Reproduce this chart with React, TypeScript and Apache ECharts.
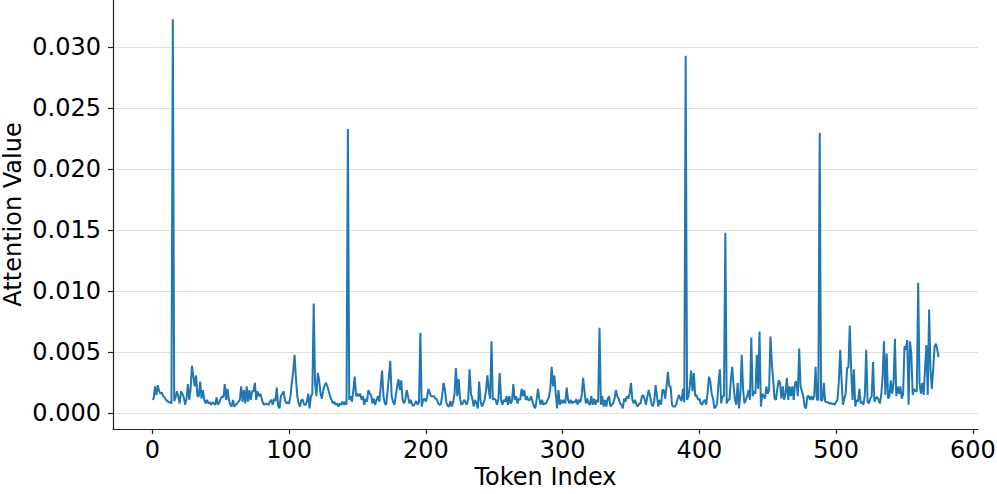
import React, { useEffect, useRef } from "react";
import * as echarts from "echarts";

// Attention value per token index (index = position in array, 0..575)
const attention: number[] = [
  0.0011, 0.0012, 0.0022, 0.0015, 0.0023, 0.0018, 0.0016, 0.0017, 0.0014, 0.0013, 0.0011, 0.0010, 0.0009, 0.0009, 0.0008, 0.0323, 0.0010, 0.0013, 0.0018, 0.0014,
  0.0008, 0.0018, 0.0016, 0.0013, 0.0007, 0.0012, 0.0024, 0.0011, 0.0020, 0.0039, 0.0030, 0.0022, 0.0031, 0.0014, 0.0014, 0.0026, 0.0012, 0.0019, 0.0011, 0.0008,
  0.0011, 0.0008, 0.0009, 0.0007, 0.0009, 0.0008, 0.0007, 0.0013, 0.0007, 0.0009, 0.0012, 0.0014, 0.0013, 0.0024, 0.0011, 0.0020, 0.0011, 0.0007, 0.00055, 0.0011,
  0.00055, 0.0007, 0.0008, 0.00095, 0.0011, 0.0022, 0.00095, 0.0019, 0.0008, 0.0022, 0.00095, 0.0019, 0.0011, 0.0018, 0.0018, 0.0025, 0.0011, 0.0018, 0.0014, 0.0016,
  0.0012, 0.0008, 0.0007, 0.0008, 0.00075, 0.0007, 0.00095, 0.0011, 0.0007, 0.0012, 0.0010, 0.0021, 0.0006, 0.0004, 0.0014, 0.0016, 0.0018, 0.0011, 0.0008, 0.0009,
  0.0008, 0.0014, 0.0025, 0.0034, 0.0048, 0.0029, 0.0014, 0.0008, 0.00055, 0.0011, 0.0011, 0.0007, 0.0007, 0.00095, 0.0016, 0.0004, 0.0014, 0.0016, 0.0090, 0.0025,
  0.0014, 0.0033, 0.0027, 0.0016, 0.0012, 0.0019, 0.0023, 0.0025, 0.0022, 0.0018, 0.0014, 0.0011, 0.0008, 0.00095, 0.0007, 0.0008, 0.00055, 0.0008, 0.0007, 0.00095,
  0.0007, 0.00095, 0.0007, 0.0233, 0.0011, 0.0014, 0.00095, 0.0019, 0.0030, 0.0014, 0.0016, 0.0014, 0.0016, 0.0011, 0.0014, 0.0007, 0.0012, 0.00095, 0.0019, 0.0016,
  0.0015, 0.0008, 0.0012, 0.0007, 0.0011, 0.0014, 0.00095, 0.0022, 0.0035, 0.0014, 0.0008, 0.0007, 0.0018, 0.0030, 0.0043, 0.0014, 0.00095, 0.0007, 0.0014, 0.0022,
  0.0028, 0.0019, 0.0027, 0.0011, 0.0008, 0.0011, 0.0019, 0.0014, 0.0008, 0.0011, 0.0007, 0.0006, 0.0008, 0.0010, 0.0007, 0.0009, 0.0066, 0.00055, 0.0011, 0.0012,
  0.00095, 0.0014, 0.0020, 0.0016, 0.0014, 0.0014, 0.0014, 0.0012, 0.00115, 0.0008, 0.0007, 0.00075, 0.0015, 0.0025, 0.0019, 0.0009, 0.0006, 0.00055, 0.0010, 0.00055,
  0.0009, 0.0016, 0.0037, 0.0014, 0.0028, 0.0012, 0.0007, 0.0008, 0.0011, 0.0009, 0.0007, 0.0012, 0.0036, 0.0016, 0.0012, 0.00055, 0.0011, 0.0008, 0.0004, 0.0026,
  0.0010, 0.00055, 0.0008, 0.0011, 0.0019, 0.0031, 0.0019, 0.0012, 0.0059, 0.0011, 0.0012, 0.0011, 0.0007, 0.00115, 0.0033, 0.0011, 0.0007, 0.0011, 0.00095, 0.0014,
  0.0007, 0.0014, 0.0008, 0.0010, 0.0024, 0.0011, 0.0014, 0.0008, 0.0012, 0.0011, 0.0020, 0.0014, 0.0019, 0.0011, 0.0014, 0.00105, 0.0011, 0.0014, 0.00095, 0.0006,
  0.0004, 0.0011, 0.0020, 0.0012, 0.0007, 0.0011, 0.0007, 0.0008, 0.0008, 0.0011, 0.0013, 0.0020, 0.0038, 0.0022, 0.0031, 0.0016, 0.0004, 0.0019, 0.0007, 0.0011,
  0.0008, 0.0011, 0.0008, 0.0021, 0.0011, 0.0008, 0.0011, 0.0008, 0.00095, 0.0009, 0.00115, 0.0007, 0.0011, 0.0009, 0.0015, 0.0029, 0.0018, 0.0008, 0.0012, 0.0008,
  0.0007, 0.0014, 0.0007, 0.0012, 0.0007, 0.0011, 0.0009, 0.0070, 0.0007, 0.0014, 0.00055, 0.0011, 0.00055, 0.0012, 0.0014, 0.00055, 0.0007, 0.0008, 0.0012, 0.0019,
  0.0014, 0.0012, 0.0008, 0.0007, 0.0004, 0.0012, 0.00095, 0.0014, 0.0012, 0.0016, 0.0025, 0.0011, 0.0008, 0.0011, 0.0007, 0.00055, 0.0008, 0.0008, 0.0014, 0.0015,
  0.0011, 0.0007, 0.0014, 0.0019, 0.0014, 0.0008, 0.00055, 0.0010, 0.0023, 0.0014, 0.00055, 0.0011, 0.0007, 0.0019, 0.0019, 0.0012, 0.0022, 0.0034, 0.0022, 0.0022,
  0.0007, 0.00055, 0.00055, 0.0007, 0.0011, 0.0015, 0.0012, 0.0010, 0.0020, 0.0009, 0.0293, 0.0011, 0.0014, 0.0022, 0.0035, 0.0018, 0.0033, 0.0014, 0.0015, 0.0011,
  0.0012, 0.0008, 0.0007, 0.00095, 0.0011, 0.0007, 0.0016, 0.0030, 0.0026, 0.0016, 0.0012, 0.0004, 0.00055, 0.0008, 0.0025, 0.0036, 0.0008, 0.0014, 0.0014, 0.0148,
  0.0008, 0.0011, 0.0011, 0.0027, 0.0038, 0.0023, 0.0011, 0.0007, 0.0025, 0.0004, 0.0016, 0.0048, 0.0019, 0.0008, 0.0011, 0.0014, 0.0019, 0.0011, 0.0062, 0.0014,
  0.0018, 0.0016, 0.0048, 0.0020, 0.0067, 0.00055, 0.0016, 0.0014, 0.0012, 0.0022, 0.0016, 0.0019, 0.0063, 0.0041, 0.0027, 0.0012, 0.0011, 0.0020, 0.0027, 0.0025,
  0.0012, 0.0022, 0.0011, 0.0016, 0.0029, 0.0011, 0.0022, 0.0014, 0.0022, 0.0011, 0.0025, 0.0026, 0.0014, 0.0053, 0.0022, 0.0018, 0.0014, 0.00055, 0.0004, 0.0014,
  0.0014, 0.0011, 0.0014, 0.0011, 0.0014, 0.0038, 0.0011, 0.0011, 0.0230, 0.0010, 0.0011, 0.0025, 0.00095, 0.0009, 0.0009, 0.0008, 0.00085, 0.00075, 0.0008, 0.0007,
  0.00095, 0.0011, 0.0026, 0.0052, 0.0027, 0.0007, 0.0012, 0.0016, 0.0037, 0.0038, 0.0072, 0.0036, 0.0011, 0.0036, 0.00055, 0.0011, 0.00095, 0.0020, 0.0008, 0.00095,
  0.0007, 0.0015, 0.0052, 0.00095, 0.0008, 0.0012, 0.0014, 0.0042, 0.00095, 0.0012, 0.00135, 0.0011, 0.0008, 0.0015, 0.0030, 0.0059, 0.0015, 0.0049, 0.0012, 0.0014,
  0.0027, 0.0016, 0.0025, 0.0061, 0.0014, 0.0022, 0.0016, 0.0022, 0.0012, 0.0016, 0.0055, 0.0052, 0.0060, 0.0007, 0.0059, 0.0049, 0.0015, 0.0020, 0.0018, 0.0018,
  0.0107, 0.0025, 0.0016, 0.0025, 0.0015, 0.0036, 0.0056, 0.0015, 0.0085, 0.0036, 0.0020, 0.0036, 0.0055, 0.0057, 0.0052, 0.0046,
];

const xTicks: number[] = [0, 100, 200, 300, 400, 500, 600];
const yTicks: number[] = [0, 0.005, 0.01, 0.015, 0.02, 0.025, 0.03];

const FONT = "'DejaVu Sans', sans-serif";

export default function App() {
  const ref = useRef<HTMLDivElement>(null);

  useEffect(() => {
    if (!ref.current) return;
    const chart = echarts.init(ref.current, null, { renderer: "svg" });
    const seriesData = attention.map((v, i) => [i, v]);
    chart.setOption({
      animation: false,
      backgroundColor: "#ffffff",
      grid: {
        left: 113,
        top: 0,
        width: 865,
        height: 429,
        containLabel: false,
        outerBoundsMode: "none",
      },
      xAxis: {
        type: "value",
        min: -28.75,
        max: 603.75,
        name: "Token Index",
        nameLocation: "middle",
        nameGap: 36,
        nameMoveOverlap: false,
        nameTextStyle: { fontFamily: FONT, fontSize: 24, color: "#000" },
        axisLine: { show: true, onZero: false, lineStyle: { color: "#222", width: 1.2 } },
        axisTick: { show: true, length: 5, customValues: xTicks, lineStyle: { color: "#222", width: 1.2 } },
        axisLabel: {
          customValues: xTicks,
          fontFamily: FONT,
          fontSize: 24,
          color: "#000",
          margin: 9,
          hideOverlap: false,
          formatter: (v: number) => String(Math.round(v)),
        },
        splitLine: { show: false },
      },
      yAxis: {
        type: "value",
        min: -0.00129,
        max: 0.03388,
        name: "Attention Value",
        nameLocation: "middle",
        nameGap: 88,
        nameRotate: 90,
        nameMoveOverlap: false,
        nameTextStyle: { fontFamily: FONT, fontSize: 24, color: "#000", lineHeight: 24 },
        axisLine: { show: true, onZero: false, lineStyle: { color: "#222", width: 1.2 } },
        axisTick: { show: true, length: 5, customValues: yTicks, lineStyle: { color: "#222", width: 1.2 } },
        axisLabel: {
          customValues: yTicks,
          fontFamily: FONT,
          fontSize: 24,
          color: "#000",
          margin: 12,
          hideOverlap: false,
          formatter: (v: number) => v.toFixed(3),
        },
        splitLine: { show: true, lineStyle: { color: "#e0e0e0", width: 1 } },
      },
      series: [
        {
          type: "line",
          data: seriesData,
          showSymbol: false,
          symbol: "none",
          lineStyle: { color: "#1f77b4", width: 2 },
          itemStyle: { color: "#1f77b4" },
          silent: true,
        },
      ],
    });
    return () => chart.dispose();
  }, []);

  return (
    <div
      ref={ref}
      style={{ position: "fixed", left: 0, top: 0, width: 997, height: 494, background: "#fff" }}
    />
  );
}
